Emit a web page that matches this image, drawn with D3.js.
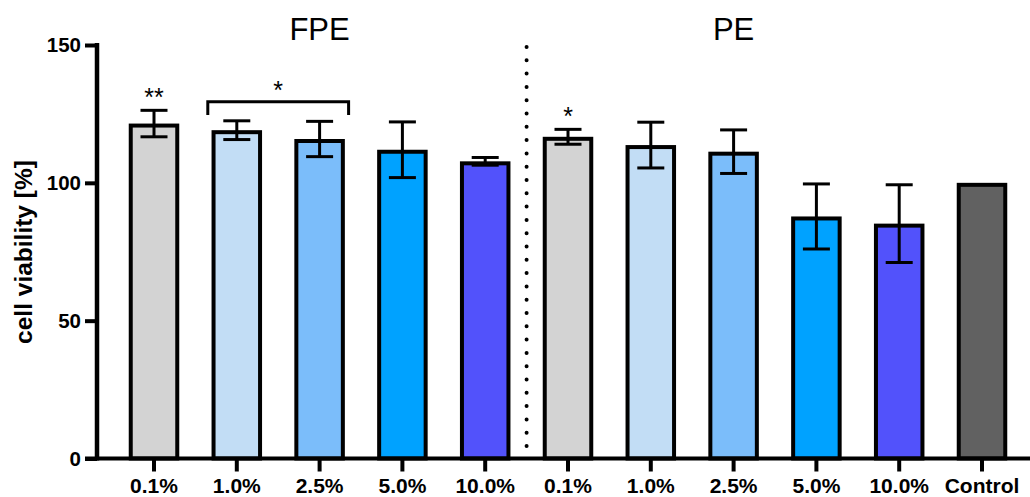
<!DOCTYPE html>
<html>
<head>
<meta charset="utf-8">
<script src="https://cdn.jsdelivr.net/npm/d3@7/dist/d3.min.js"></script>
<style>
  html, body { margin: 0; padding: 0; background: #fff; }
  svg { display: block; font-family: "Liberation Sans", Arial, sans-serif; }
</style>
</head>
<body>
<svg id="chart" width="1030" height="497"></svg>
<script>
// Cell viability per treatment: mean and standard deviation (%)
const categories = ["FPE 0.1%", "FPE 1.0%", "FPE 2.5%", "FPE 5.0%", "FPE 10.0%",
                    "PE 0.1%", "PE 1.0%", "PE 2.5%", "PE 5.0%", "PE 10.0%", "Control"];
const tickLabels = ["0.1%", "1.0%", "2.5%", "5.0%", "10.0%",
                    "0.1%", "1.0%", "2.5%", "5.0%", "10.0%", "Control"];
const means = [121.5, 119.1, 115.9, 112.0, 107.8, 116.7, 113.7, 111.3, 87.8, 85.2, 100];
const sds   = [4.8, 3.4, 6.4, 10.1, 1.4, 2.7, 8.3, 7.9, 11.8, 14.1, 0];
const colors = ["#d3d3d3", "#c2ddf5", "#7bbdfa", "#00a2ff", "#5252fb",
                "#d3d3d3", "#c2ddf5", "#7bbdfa", "#00a2ff", "#5252fb", "#616161"];
const yTicks = [0, 50, 100, 150];
const groups = [{ name: "FPE", from: 0, to: 4 }, { name: "PE", from: 5, to: 9 }];
// Significance markers: single bars and one bracket spanning two bars
const starMarks = [{ cat: 0, text: "**" }, { cat: 5, text: "*" }];
const bracketMarks = [{ from: 1, to: 2, text: "*" }];

const svg = d3.select("#chart");
const barStroke = 4;
const boldFont = "Liberation Sans, Arial, sans-serif";

const x = d3.scaleBand()
  .domain(categories)
  .range([112.6, 1023.4])
  .paddingInner(0.39)
  .paddingOuter(0.195);

const y = d3.scaleLinear().domain([0, 150]).range([458.5, 45]);

const cx = i => x(categories[i]) + x.bandwidth() / 2;

// Bars: outer edge of the border sits at the value
svg.append("g").selectAll("rect")
  .data(categories)
  .join("rect")
  .attr("x", d => x(d) + barStroke / 2)
  .attr("width", x.bandwidth() - barStroke)
  .attr("y", (d, i) => y(means[i]) + barStroke / 2)
  .attr("height", (d, i) => y(0) - y(means[i]) - barStroke / 2)
  .attr("fill", (d, i) => colors[i])
  .attr("stroke", "#000")
  .attr("stroke-width", barStroke);

// Error bars (mean ± SD)
const capW = 27;
const eb = svg.append("g").attr("stroke", "#000").attr("stroke-width", 3);
categories.forEach((c, i) => {
  if (!sds[i]) return;
  const xc = cx(i);
  const hi = y(means[i] + sds[i]), lo = y(means[i] - sds[i]);
  eb.append("line").attr("x1", xc).attr("x2", xc).attr("y1", hi).attr("y2", lo);
  eb.append("line").attr("x1", xc - capW / 2).attr("x2", xc + capW / 2).attr("y1", hi).attr("y2", hi);
  eb.append("line").attr("x1", xc - capW / 2).attr("x2", xc + capW / 2).attr("y1", lo).attr("y2", lo);
});

// Y axis
const yAxis = svg.append("g")
  .attr("transform", `translate(97,0)`)
  .call(d3.axisLeft(y).tickValues(yTicks).tickSize(12).tickSizeOuter(0).tickPadding(4));
yAxis.select(".domain").attr("stroke-width", 4.5).attr("d", `M0,${y(0) + 2}V${y(150) - 2}`);
yAxis.selectAll(".tick line").attr("stroke-width", 4);
yAxis.selectAll(".tick text")
  .attr("font-size", 20.5).attr("font-weight", "bold").attr("fill", "#000")
  .attr("font-family", boldFont);

// X axis
const xAxis = svg.append("g")
  .attr("transform", `translate(0,${y(0)})`)
  .call(d3.axisBottom(x).tickFormat((d, i) => tickLabels[i]).tickSize(13).tickSizeOuter(0).tickPadding(7));
xAxis.select(".domain").attr("stroke-width", 4).attr("d", "M85,0H1030");
xAxis.selectAll(".tick line").attr("stroke-width", 4);
xAxis.selectAll(".tick text")
  .attr("font-size", 21).attr("font-weight", "bold").attr("fill", "#000")
  .attr("font-family", boldFont);

// Y axis title
svg.append("text")
  .attr("transform", `translate(32,252) rotate(-90)`)
  .attr("text-anchor", "middle")
  .attr("font-size", 24.5).attr("font-weight", "bold")
  .text("cell viability [%]");

// Dotted separator between the two extract series
const sepX = (cx(4) + cx(5)) / 2;
svg.append("line")
  .attr("x1", sepX).attr("x2", sepX)
  .attr("y1", 47).attr("y2", y(0) - 4)
  .attr("stroke", "#000").attr("stroke-width", 4)
  .attr("stroke-linecap", "round")
  .attr("stroke-dasharray", "0 13.3");

// Group titles
svg.append("g").selectAll("text")
  .data(groups)
  .join("text")
  .attr("x", d => (cx(d.from) + cx(d.to)) / 2)
  .attr("y", 40)
  .attr("text-anchor", "middle")
  .attr("font-size", 31)
  .text(d => d.name);

// Significance stars above single bars
svg.append("g").selectAll("text")
  .data(starMarks)
  .join("text")
  .attr("x", d => cx(d.cat))
  .attr("y", d => y(means[d.cat] + sds[d.cat]) - 4)
  .attr("text-anchor", "middle")
  .attr("font-size", 25)
  .text(d => d.text);

// Bracket with star across several bars
bracketMarks.forEach(b => {
  const x1 = cx(b.from) - 29, x2 = cx(b.to) + 29;
  const top = 101.7, leg = 115;
  svg.append("path")
    .attr("d", `M${x1},${leg}V${top}H${x2}V${leg}`)
    .attr("fill", "none").attr("stroke", "#000").attr("stroke-width", 3);
  svg.append("text")
    .attr("x", (x1 + x2) / 2).attr("y", top - 3)
    .attr("text-anchor", "middle").attr("font-size", 25)
    .text(b.text);
});
</script>
</body>
</html>
